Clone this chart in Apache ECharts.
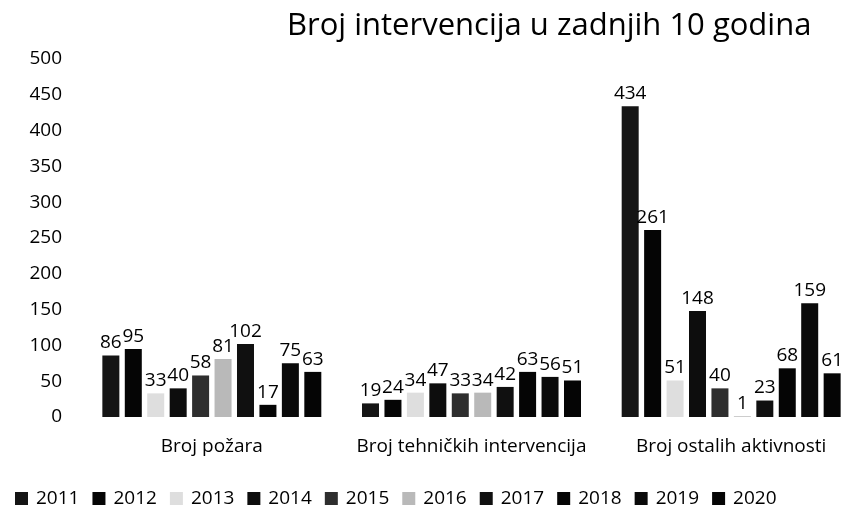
<!DOCTYPE html>
<html>
<head>
<meta charset="utf-8">
<style>
  html, body { margin: 0; padding: 0; background: #fff; }
  #chart { width: 841px; height: 505px; }
</style>
<script src="https://cdn.jsdelivr.net/npm/echarts@6/dist/echarts.min.js"></script>
</head>
<body>
<div id="chart"></div>
<script>
const categories = ['Broj požara', 'Broj tehničkih intervencija', 'Broj ostalih aktivnosti']
const years = ['2011', '2012', '2013', '2014', '2015', '2016', '2017', '2018', '2019', '2020']
const v2011 = [86, 19, 434]
const v2012 = [95, 24, 261]
const v2013 = [33, 34, 51]
const v2014 = [40, 47, 148]
const v2015 = [58, 33, 40]
const v2016 = [81, 34, 1]
const v2017 = [102, 42, 23]
const v2018 = [17, 63, 68]
const v2019 = [75, 56, 159]
const v2020 = [63, 51, 61]
const yearValues = [v2011, v2012, v2013, v2014, v2015, v2016, v2017, v2018, v2019, v2020]

const colorList = ['#151515', '#050505', '#dedede', '#0d0d0d', '#2e2e2e', '#b9b9b9', '#101010', '#050505', '#0a0a0a', '#050505']
const fontFamily = 'Open Sans'
const fontSize = 19

const chart = echarts.init(document.getElementById('chart'))

const series = years.map((y, i) => ({
  name: y,
  type: 'bar',
  barWidth: 17,
  barGap: '32%',
  itemStyle: { color: colorList[i] },
  label: {
    show: true,
    position: 'top',
    distance: 3,
    color: '#000',
    fontSize: fontSize,
    fontFamily: fontFamily
  },
  data: yearValues[i]
}))

chart.setOption({
  animation: false,
  textStyle: { fontFamily: fontFamily },
  title: {
    text: 'Broj intervencija u zadnjih 10 godina',
    left: 282,
    top: 6,
    textStyle: { fontSize: 31, fontWeight: 'normal', color: '#000', fontFamily: fontFamily }
  },
  legend: {
    left: 10,
    top: 484,
    itemWidth: 13,
    itemHeight: 13,
    itemGap: 13,
    icon: 'rect',
    textStyle: { fontSize: fontSize, color: '#000', fontFamily: fontFamily, padding: [0, 0, 0, 3] },
    data: years
  },
  grid: {
    left: 82,
    right: -20,
    top: 59,
    bottom: 88,
    outerBoundsMode: 'none'
  },
  xAxis: {
    type: 'category',
    data: categories,
    axisLine: { show: false },
    axisTick: { show: false },
    axisLabel: { interval: 0, fontSize: fontSize, color: '#000', margin: 20, fontFamily: fontFamily }
  },
  yAxis: {
    type: 'value',
    min: 0,
    max: 500,
    interval: 50,
    splitLine: { show: false },
    axisLine: { show: false },
    axisTick: { show: false },
    axisLabel: { fontSize: fontSize, color: '#000', margin: 20, fontFamily: fontFamily }
  },
  series: series
})
</script>
</body>
</html>
